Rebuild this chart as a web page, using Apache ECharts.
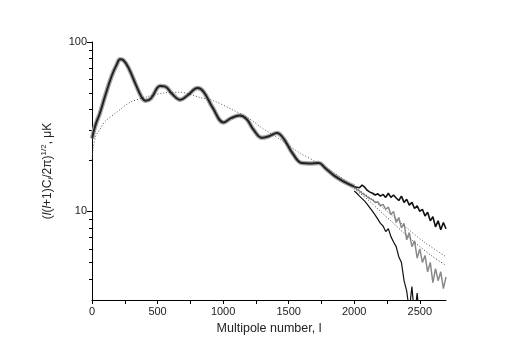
<!DOCTYPE html>
<html>
<head>
<meta charset="utf-8">
<script src="https://cdn.jsdelivr.net/npm/echarts@6/dist/echarts.min.js"></script>
<style>
  html, body { margin: 0; background: #fff; }
  #chart { width: 518px; height: 361px; }
</style>
</head>
<body>
<div id="chart"></div>
<script>
// common part of the spectrum (all curves overlap here)
const lMain = [2, 10, 30, 60, 100, 150, 190, 214, 240, 280, 330, 380, 410, 450, 520, 560, 610, 673, 730, 805, 850, 920, 1004, 1060, 1126, 1180, 1230, 1297, 1350, 1410, 1460, 1530, 1600, 1660, 1730, 1780, 1850, 1920, 2000]
const ttMain = [27, 29, 33, 38, 48, 63, 74, 79, 78, 70, 57, 47, 45, 46.5, 55, 54.5, 49.5, 45.6, 48.5, 53.5, 51, 41, 33.5, 35.5, 36.8, 35, 30.5, 27.2, 27.8, 29, 27, 22, 19.3, 19.2, 19.3, 18, 16.2, 15, 14]

// high-l tails, l = 2000..2700 step 20
const lTail = [2000, 2020, 2040, 2060, 2080, 2100, 2120, 2140, 2160, 2180, 2200, 2220, 2240, 2260, 2280, 2300, 2320, 2340, 2360, 2380, 2400, 2420, 2440, 2460, 2480, 2500, 2520, 2540, 2560, 2580, 2600, 2620, 2640, 2660, 2680, 2700]
const upperTail = [14.0, 13.9, 13.8, 14.3, 13.9, 13.3, 13.0, 12.8, 12.5, 12.7, 12.3, 12.6, 12.1, 12.8, 12.1, 12.5, 12.0, 11.6, 12.3, 11.3, 11.8, 10.9, 11.3, 10.4, 10.8, 10.0, 10.3, 9.4, 9.9, 8.8, 9.3, 8.1, 8.8, 7.8, 8.6, 7.9]
const grayTail = [13.8, 13.5, 13.2, 12.8, 12.5, 12.2, 11.9, 11.7, 11.3, 11.4, 10.8, 11.0, 10.3, 10.6, 9.6, 10.0, 8.6, 9.2, 8.0, 8.5, 6.8, 7.5, 6.2, 6.7, 5.3, 6.0, 5.0, 5.5, 4.4, 5.0, 3.8, 4.6, 3.9, 4.4, 3.5, 4.1]
const lowerTail = [13.2, 12.8, 12.3, 11.9, 11.5, 11.0, 10.5, 10.0, 9.5, 9.0, 8.5, 8.2, 7.6, 7.9, 7.1, 6.6, 6.2, 5.4, 5.0, 3.9, 3.4, 2.6, 3.6, 2.4, 3.3, 2.2]

// smooth dotted model curve
const lDot = [0, 10, 30, 61, 100, 189, 290, 418, 545, 673, 826, 927, 1080, 1182, 1300, 1437, 1590, 1700, 1850, 2000, 2150, 2278, 2400, 2533, 2700]
const dotModel = [20, 24, 28, 30.5, 34, 38.5, 44, 47.5, 50, 50.5, 47, 45, 39.5, 36, 31, 26.5, 22, 19.8, 16.8, 14, 11.6, 9.6, 8, 6.6, 5.4]
// second dotted curve branching off near l=2000
const lDot2 = [2000, 2100, 2200, 2300, 2400, 2500, 2600, 2700]
const dot2 = [13.6, 11.8, 10.0, 8.5, 7.2, 6.2, 5.4, 4.8]

const xTicks = [0, 250, 500, 750, 1000, 1250, 1500, 1750, 2000, 2250, 2500]
const xLabels = [0, 500, 1000, 1500, 2000, 2500]
const yMajor = [10, 100]
const yMinor = [4, 5, 6, 7, 8, 9, 20, 30, 40, 50, 60, 70, 80, 90]

const zip = (xs, ys) => ys.map((v, i) => [xs[i], v])
const font = 'Liberation Sans, Arial, sans-serif'

const chart = echarts.init(document.getElementById('chart'))
chart.setOption({
  animation: false,
  grid: { left: 92, right: 72, top: 42, bottom: 61 },
  xAxis: {
    type: 'value',
    min: 0,
    max: 2700,
    name: 'Multipole number, l',
    nameLocation: 'middle',
    nameGap: 21,
    nameTextStyle: { color: '#222', fontSize: 12.5, fontFamily: font },
    axisLine: { lineStyle: { color: '#000', width: 1 } },
    axisTick: { customValues: xTicks, length: 4, lineStyle: { color: '#000' } },
    axisLabel: { customValues: xLabels, formatter: v => String(v), color: '#222', fontSize: 11, fontFamily: font, margin: 6 },
    splitLine: { show: false },
  },
  yAxis: [
    {
      type: 'log',
      logBase: 10,
      min: 3,
      max: 100,
      name: '({i|l}({i|l}+1)C{sub|l}/2π){sup|1/2}, μK',
      nameLocation: 'middle',
      nameGap: 36,
      nameRotate: 90,
      nameTextStyle: {
        color: '#222', fontSize: 12, fontFamily: font,
        rich: {
          i: { fontStyle: 'italic', fontSize: 12, fontFamily: font, color: '#222' },
          sub: { fontStyle: 'italic', fontSize: 8, fontFamily: font, color: '#222', padding: [6, 0, 0, 0] },
          sup: { fontSize: 8, fontFamily: font, color: '#222', padding: [0, 0, 8, 0] },
        },
      },
      axisLine: { show: true, lineStyle: { color: '#000', width: 1 } },
      axisTick: { customValues: yMajor, length: 5, lineStyle: { color: '#000' } },
      axisLabel: { customValues: yMajor, formatter: v => String(v), color: '#222', fontSize: 11, fontFamily: font, margin: 5 },
      splitLine: { show: false },
    },
    {
      type: 'log',
      logBase: 10,
      min: 3,
      max: 100,
      position: 'left',
      axisLine: { show: false },
      axisTick: { customValues: yMinor, length: 3, lineStyle: { color: '#000' } },
      axisLabel: { show: false },
      splitLine: { show: false },
    },
  ],
  series: [
    {
      name: 'halo', type: 'line', data: zip(lMain, ttMain), showSymbol: false, smooth: 0.4, z: 1,
      lineStyle: { color: '#a8a8a8', width: 4.5 },
    },
    {
      name: 'dotted model', type: 'line', data: zip(lDot, dotModel), showSymbol: false, smooth: 0.3, z: 3,
      lineStyle: { color: '#555', width: 1, type: [1, 2] },
    },
    {
      name: 'dotted 2', type: 'line', data: zip(lDot2, dot2), showSymbol: false, smooth: 0.3, z: 3,
      lineStyle: { color: '#333', width: 1, type: [1, 2] },
    },
    {
      name: 'gray tail', type: 'line', data: zip(lTail, grayTail), showSymbol: false, z: 2,
      lineStyle: { color: '#8a8a8a', width: 1.5 },
    },
    {
      name: 'lower tail', type: 'line', data: zip(lTail, lowerTail), showSymbol: false, z: 4,
      lineStyle: { color: '#111', width: 1.2 },
    },
    {
      name: 'upper tail', type: 'line', data: zip(lTail, upperTail), showSymbol: false, z: 4,
      lineStyle: { color: '#111', width: 1.6 },
    },
    {
      name: 'main', type: 'line', data: zip(lMain, ttMain), showSymbol: false, smooth: 0.4, z: 5,
      lineStyle: { color: '#222', width: 2 },
    },
  ],
})
</script>
</body>
</html>
